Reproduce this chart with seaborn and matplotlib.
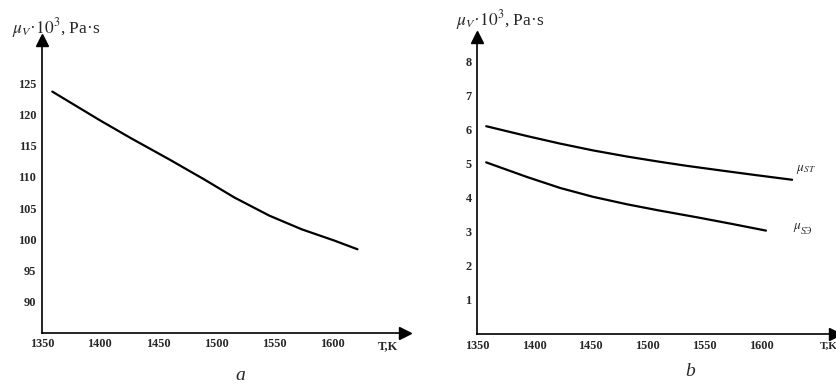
import matplotlib
matplotlib.use("Agg")
import matplotlib.pyplot as plt
import pandas as pd
import seaborn as sns

# panel a: mu_V vs T
temp_a = [1359, 1400, 1427, 1460, 1490, 1516, 1546, 1574, 1602, 1622]
mu_a = [123.7, 119.1, 116.2, 112.8, 109.6, 106.7, 103.8, 101.6, 99.8, 98.4]

# panel b: two curves
temp_st = [1358, 1394, 1423, 1452, 1482, 1510, 1534, 1565, 1592, 1627]
mu_st = [6.09, 5.80, 5.58, 5.38, 5.20, 5.05, 4.93, 4.79, 4.67, 4.52]
temp_se = [1358, 1394, 1423, 1452, 1482, 1510, 1545, 1575, 1604]
mu_se = [5.03, 4.60, 4.28, 4.02, 3.80, 3.62, 3.41, 3.22, 3.03]

xticks = [1350, 1400, 1450, 1500, 1550, 1600]
yticks_a = [90, 95, 100, 105, 110, 115, 120, 125]
yticks_b = [1, 2, 3, 4, 5, 6, 7, 8]

df_a = pd.DataFrame({"T": temp_a, "mu": mu_a})
df_b = pd.concat([
    pd.DataFrame({"T": temp_st, "mu": mu_st, "curve": "ST"}),
    pd.DataFrame({"T": temp_se, "mu": mu_se, "curve": "SE"}),
])

sns.set_style("white")
plt.rcParams["font.family"] = ["Liberation Serif", "DejaVu Serif"]
plt.rcParams["mathtext.fontset"] = "stix"

fig = plt.figure(figsize=(8.37, 3.87), dpi=100)
ax1 = fig.add_axes([0.050, 0.140, 0.434, 0.757])
ax2 = fig.add_axes([0.570, 0.137, 0.428, 0.767])


def style_axis(ax, yticks):
    for s in ["top", "right"]:
        ax.spines[s].set_visible(False)
    for s in ["left", "bottom"]:
        ax.spines[s].set_linewidth(1.2)
        ax.spines[s].set_color("black")
    ax.plot(1, 0, ">k", markersize=8, transform=ax.transAxes, clip_on=False)
    ax.plot(0, 1, "^k", markersize=8, transform=ax.transAxes, clip_on=False)
    ax.set_xticks(xticks)
    ax.set_yticks(yticks)
    ax.tick_params(direction="in", length=3, width=0.8, labelsize=8.8, pad=4)
    for lab in ax.get_xticklabels() + ax.get_yticklabels():
        lab.set_fontweight("bold")
    ax.set_xlabel("")
    ax.set_ylabel("")


sns.lineplot(data=df_a, x="T", y="mu", color="black", linewidth=1.6, ax=ax1)
ax1.set_xlim(1350, 1663)
ax1.set_ylim(85, 132)
style_axis(ax1, yticks_a)

sns.lineplot(data=df_b, x="T", y="mu", units="curve", estimator=None,
             color="black", linewidth=1.6, ax=ax2, sort=False)
ax2.set_xlim(1350, 1665)
ax2.set_ylim(0, 8.7)
style_axis(ax2, yticks_b)

ylab = r"$\mu_V$·$10^3$, Pa·s"
fig.text(0.014, 0.927, ylab, fontsize=12.5, va="center")
fig.text(0.545, 0.948, ylab, fontsize=12.5, va="center")
fig.text(0.451, 0.105, "T,K", fontsize=9, fontweight="bold", va="center")
fig.text(0.980, 0.105, "T,K", fontsize=8, fontweight="bold", va="center")

ax2.text(1630, 4.62, r"$\mu_{ST}$", fontsize=9.5, va="bottom", ha="left")
ax2.text(1628, 2.92, r"$\mu$", fontsize=9.5, va="bottom", ha="left")
ax2.text(1635, 2.87, "SЭ", fontsize=7, style="italic", va="bottom", ha="left")

fig.text(0.287, 0.03, "a", fontsize=14, style="italic", ha="center", va="center")
fig.text(0.824, 0.04, "b", fontsize=14, style="italic", ha="center", va="center")

fig.savefig("out.png", dpi=100)
